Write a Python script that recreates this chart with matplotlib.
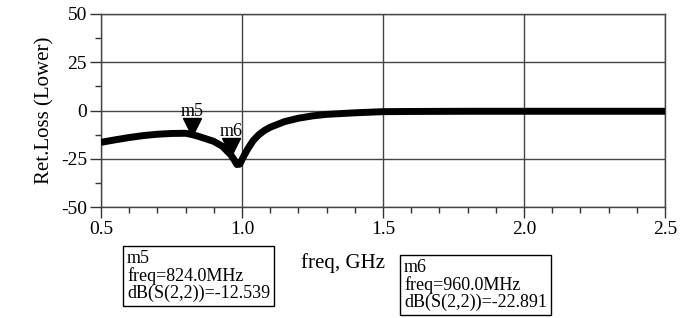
import numpy as np
import matplotlib.pyplot as plt

plt.rcParams['font.family'] = ['Liberation Serif', 'DejaVu Serif']

# S(2,2) return loss
freq = [0.5, 0.55, 0.6, 0.65, 0.7, 0.75, 0.8, 0.824, 0.85, 0.9, 0.93, 0.96,
        0.972, 0.982, 0.992, 1.005, 1.02, 1.04, 1.06, 1.08, 1.1, 1.15, 1.2,
        1.25, 1.3, 1.4, 1.5, 1.6, 1.8, 2.0, 2.2, 2.5]
ret_loss = [-16.5, -15.2, -14.0, -13.0, -12.3, -11.9, -11.8, -12.5, -13.6,
            -16.0, -18.5, -22.9, -25.5, -28.0, -27.8, -24.0, -20.0, -15.5,
            -12.5, -10.3, -8.7, -5.8, -4.0, -2.8, -2.0, -1.2, -0.6, -0.5,
            -0.4, -0.4, -0.4, -0.4]

marker_names = ['m5', 'm6']
marker_freq = [0.824, 0.960]
marker_db = [-12.539, -22.891]
marker_text = ['m5\nfreq=824.0MHz\ndB(S(2,2))=-12.539',
               'm6\nfreq=960.0MHz\ndB(S(2,2))=-22.891']

fig = plt.figure(figsize=(6.89, 3.18), dpi=100)
ax = fig.add_axes([101/689, 1 - 207/318, 564/689, 193/318])

ax.plot(freq, ret_loss, color='black', linewidth=5, solid_capstyle='butt',
        solid_joinstyle='round', zorder=3)

for name, f, d in zip(marker_names, marker_freq, marker_db):
    ax.plot(f, d + 4.0, marker='v', markersize=13, color='black', zorder=4)
    ax.text(f, d + 7.5, name, ha='center', va='bottom', fontsize=13)

ax.set_xlim(0.5, 2.5)
ax.set_ylim(-50, 50)
ax.set_xticks([0.5, 1.0, 1.5, 2.0, 2.5])
ax.set_xticklabels(['0.5', '1.0', '1.5', '2.0', '2.5'])
ax.set_yticks([-50, -25, 0, 25, 50])
ax.set_yticklabels(['-50', '-25', '0', '25', '50'])
ax.set_xticks(np.arange(0.5, 2.51, 0.1), minor=True)
ax.set_yticks(np.arange(-50, 51, 12.5), minor=True)
ax.tick_params(axis='both', which='major', length=8, width=1, color='#333333',
               labelsize=14, direction='out', pad=2)
ax.tick_params(axis='both', which='minor', length=4, width=1, color='#333333',
               direction='out')
ax.grid(True, which='major', color='#444444', linewidth=1)
for s in ax.spines.values():
    s.set_color('#444444')
    s.set_linewidth(1)

ax.set_ylabel('Ret.Loss (Lower)', fontsize=15, labelpad=5)
fig.text(343/689, 1 - 263/318, 'freq, GHz', ha='center', va='center', fontsize=15)

fig.text(127/689, 1 - 250/318, marker_text[0], ha='left', va='top', fontsize=13,
         linespacing=1.0,
         bbox=dict(boxstyle='square,pad=0.22', fc='white', ec='black', lw=1))
fig.text(404/689, 1 - 259/318, marker_text[1], ha='left', va='top', fontsize=13,
         linespacing=1.0,
         bbox=dict(boxstyle='square,pad=0.22', fc='white', ec='black', lw=1))

fig.savefig('out.png', dpi=100)
